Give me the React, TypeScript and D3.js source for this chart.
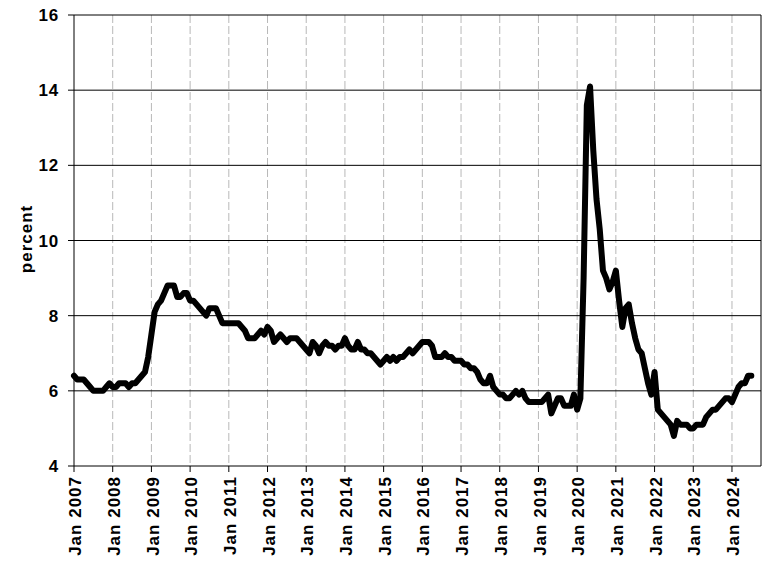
import * as React from "react";
import * as d3 from "d3";

// monthly series, first point = Jan 2007
const START_YEAR = 2007;
const values2007 = [6.4, 6.3, 6.3, 6.3, 6.2, 6.1, 6.0, 6.0, 6.0, 6.0, 6.1, 6.2];
const values2008 = [6.1, 6.1, 6.2, 6.2, 6.2, 6.1, 6.2, 6.2, 6.3, 6.4, 6.5, 6.9];
const values2009 = [7.5, 8.1, 8.3, 8.4, 8.6, 8.8, 8.8, 8.8, 8.5, 8.5, 8.6, 8.6];
const values2010 = [8.4, 8.4, 8.3, 8.2, 8.1, 8.0, 8.2, 8.2, 8.2, 8.0, 7.8, 7.8];
const values2011 = [7.8, 7.8, 7.8, 7.8, 7.7, 7.6, 7.4, 7.4, 7.4, 7.5, 7.6, 7.5];
const values2012 = [7.7, 7.6, 7.3, 7.4, 7.5, 7.4, 7.3, 7.4, 7.4, 7.4, 7.3, 7.2];
const values2013 = [7.1, 7.0, 7.3, 7.2, 7.0, 7.2, 7.3, 7.2, 7.2, 7.1, 7.2, 7.2];
const values2014 = [7.4, 7.2, 7.1, 7.1, 7.3, 7.1, 7.1, 7.0, 7.0, 6.9, 6.8, 6.7];
const values2015 = [6.8, 6.9, 6.8, 6.9, 6.8, 6.9, 6.9, 7.0, 7.1, 7.0, 7.1, 7.2];
const values2016 = [7.3, 7.3, 7.3, 7.2, 6.9, 6.9, 6.9, 7.0, 6.9, 6.9, 6.8, 6.8];
const values2017 = [6.8, 6.7, 6.7, 6.6, 6.6, 6.5, 6.3, 6.2, 6.2, 6.4, 6.1, 6.0];
const values2018 = [5.9, 5.9, 5.8, 5.8, 5.9, 6.0, 5.9, 6.0, 5.8, 5.7, 5.7, 5.7];
const values2019 = [5.7, 5.7, 5.8, 5.9, 5.4, 5.6, 5.8, 5.8, 5.6, 5.6, 5.6, 5.9];
const values2020 = [5.5, 5.8, 9.0, 13.6, 14.1, 12.4, 11.1, 10.3, 9.2, 9.0, 8.7, 8.9];
const values2021 = [9.2, 8.4, 7.7, 8.2, 8.3, 7.8, 7.4, 7.1, 7.0, 6.6, 6.2, 5.9];
const values2022 = [6.5, 5.5, 5.4, 5.3, 5.2, 5.1, 4.8, 5.2, 5.1, 5.1, 5.1, 5.0];
const values2023 = [5.0, 5.1, 5.1, 5.1, 5.3, 5.4, 5.5, 5.5, 5.6, 5.7, 5.8, 5.8];
const values2024 = [5.7, 5.9, 6.1, 6.2, 6.2, 6.4, 6.4];

const series = [
  ...values2007, ...values2008, ...values2009, ...values2010, ...values2011,
  ...values2012, ...values2013, ...values2014, ...values2015, ...values2016,
  ...values2017, ...values2018, ...values2019, ...values2020, ...values2021,
  ...values2022, ...values2023, ...values2024,
];

const yTicks = [4, 6, 8, 10, 12, 14, 16];
const gridValues = [6, 8, 10, 12, 14, 16];
const tickYears = d3.range(2007, 2025);

const width = 774;
const height = 562;
const FONT = "'Liberation Sans', Arial, sans-serif";

export default function App() {
  const x = d3.scaleLinear().domain([0, 213]).range([74, 761]);
  const y = d3.scaleLinear().domain([4, 16]).range([466, 15]);

  const line = d3.line<number>()
    .x((d, i) => x(i))
    .y(d => y(d));

  const monthIdx = (yr: number) => (yr - START_YEAR) * 12;

  return (
    <svg width={width} height={height} style={{position: "absolute", left: 0, top: 0, background: "#fff"}}
         fontFamily={FONT} fontWeight="bold" fontSize={17}>
      {/* vertical dashed gridlines at each January */}
      {tickYears.slice(1).map(yr => (
        <line key={"vg" + yr} x1={x(monthIdx(yr))} x2={x(monthIdx(yr))} y1={y(16)} y2={y(4)}
              stroke="#b8b8b8" strokeWidth={1} strokeDasharray="8,3"/>
      ))}
      {/* horizontal gridlines */}
      {gridValues.map(v => (
        <line key={"hg" + v} x1={x(0)} x2={x(213)} y1={y(v)} y2={y(v)} stroke="#000" strokeWidth={1}/>
      ))}
      {/* frame */}
      <line x1={x(0)} x2={x(0)} y1={y(16)} y2={y(4)} stroke="#000"/>
      <line x1={x(213)} x2={x(213)} y1={y(16)} y2={y(4)} stroke="#000"/>
      <line x1={x(0)} x2={x(213)} y1={y(4)} y2={y(4)} stroke="#000"/>

      {/* y ticks and labels */}
      {yTicks.map(v => (
        <g key={"yt" + v}>
          <line x1={x(0) - 6} x2={x(0)} y1={y(v)} y2={y(v)} stroke="#000"/>
          <text x={59} y={y(v)} dy="0.36em" textAnchor="end" letterSpacing={0.8}>{v}</text>
        </g>
      ))}

      {/* x ticks and labels */}
      {tickYears.map(yr => {
        const xx = x(monthIdx(yr));
        return (
          <g key={"xt" + yr}>
            <line x1={xx} x2={xx} y1={y(4)} y2={y(4) + 6} stroke="#000"/>
            <text transform={`translate(${xx + 1},${476}) rotate(-90)`} dy="0.36em" textAnchor="end"
                  letterSpacing={1}>
              {"Jan " + yr}
            </text>
          </g>
        );
      })}

      <text transform="translate(26,239) rotate(-90)" dy="0.36em" textAnchor="middle" letterSpacing={1}>percent</text>

      <path d={line(series) || ""} fill="none" stroke="#000" strokeWidth={6}
            strokeLinejoin="round" strokeLinecap="round"/>
    </svg>
  );
}
